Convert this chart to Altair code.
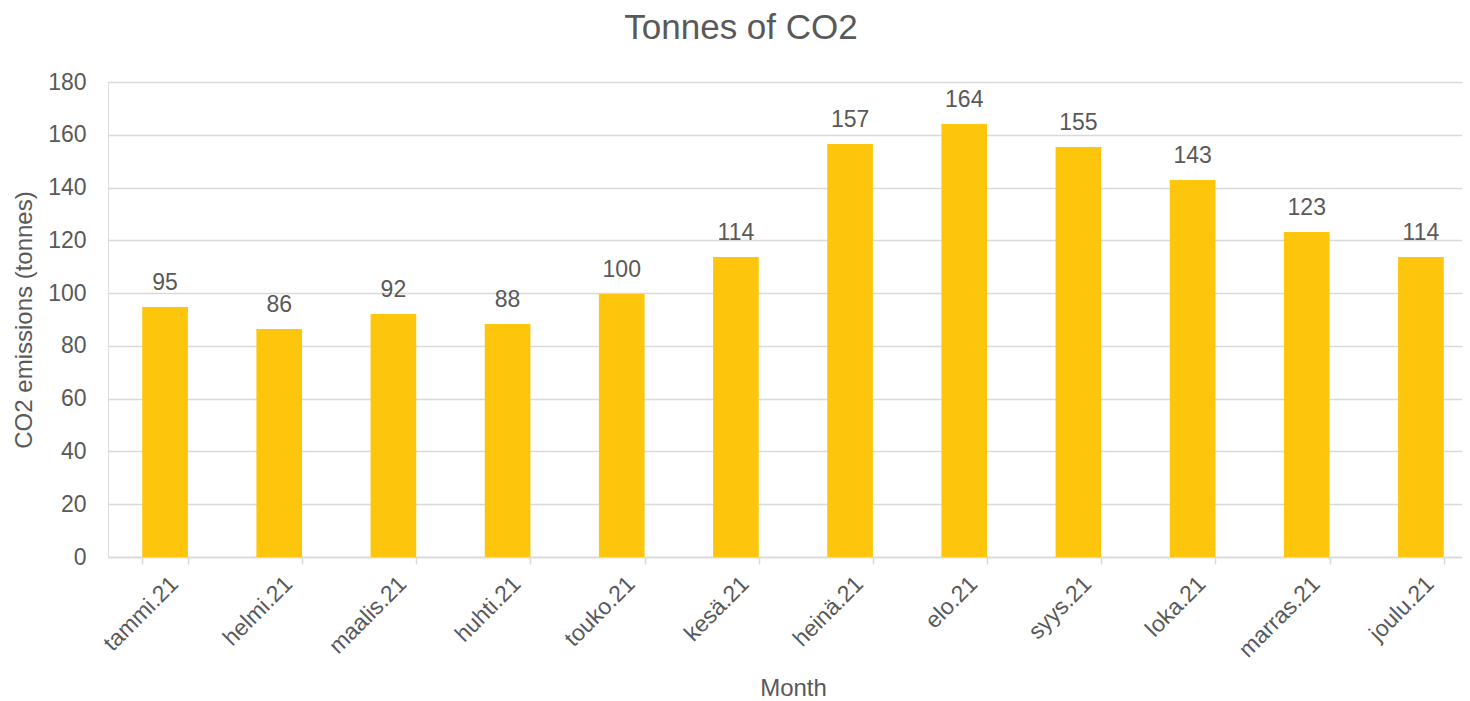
import altair as alt
import pandas as pd

months = ["tammi.21", "helmi.21", "maalis.21", "huhti.21", "touko.21", "kesä.21",
          "heinä.21", "elo.21", "syys.21", "loka.21", "marras.21", "joulu.21"]
values = [94.7, 86.4, 92.1, 88.3, 99.7, 113.7, 156.5, 164.1, 155.4, 142.9, 123.2, 113.7]

df = pd.DataFrame({"Month": months, "CO2": values})

FONT = "Liberation Sans"
TXT = "#595959"
GRID = "#d9d9d9"
BAR = "#FDC50C"

x = alt.X("Month:N", sort=months,
          scale=alt.Scale(paddingInner=0.6, paddingOuter=0.3),
          axis=alt.Axis(title="Month", labelAngle=-45, labelAlign="right", labelBaseline="middle",
                        labelFontSize=23, labelColor=TXT, labelFont=FONT, labelPadding=16,
                        labelOffset=9,
                        titleFontSize=24, titleColor=TXT, titleFont=FONT, titleFontWeight="normal",
                        titlePadding=15,
                        domainColor=GRID, domainWidth=1.5, tickColor=GRID, tickWidth=1.5, tickSize=7,
                        tickBand="extent", grid=False))
y = alt.Y("CO2:Q",
          scale=alt.Scale(domain=[0, 180]),
          axis=alt.Axis(title="CO2 emissions (tonnes)", values=list(range(0, 181, 20)),
                        labelFontSize=23, labelColor=TXT, labelFont=FONT, labelPadding=22,
                        titleFontSize=24, titleColor=TXT, titleFont=FONT, titleFontWeight="normal",
                        titlePadding=11,
                        domain=False, ticks=False, grid=True, gridColor=GRID, gridWidth=1.5))

bars = alt.Chart(df).mark_bar(color=BAR).encode(x=x, y=y)
labels = alt.Chart(df).mark_text(font=FONT, fontSize=23, color=TXT, baseline="alphabetic", dy=-17).encode(
    x=alt.X("Month:N", sort=months), y="CO2:Q", text=alt.Text("CO2:Q", format=".0f"))

chart = (bars + labels).properties(
    width=1370, height=475,
    title=alt.TitleParams("Tonnes of CO2", font=FONT, fontSize=35, color=TXT, fontWeight="normal",
                          anchor="middle", dx=-52, offset=25),
    autosize=alt.AutoSizeParams(type="none"),
    padding={"left": 100, "top": 74, "right": -16, "bottom": 144},
).configure_view(stroke=None).configure(background="white")

chart.save("out.html", embed_options={"renderer": "svg", "actions": False})
